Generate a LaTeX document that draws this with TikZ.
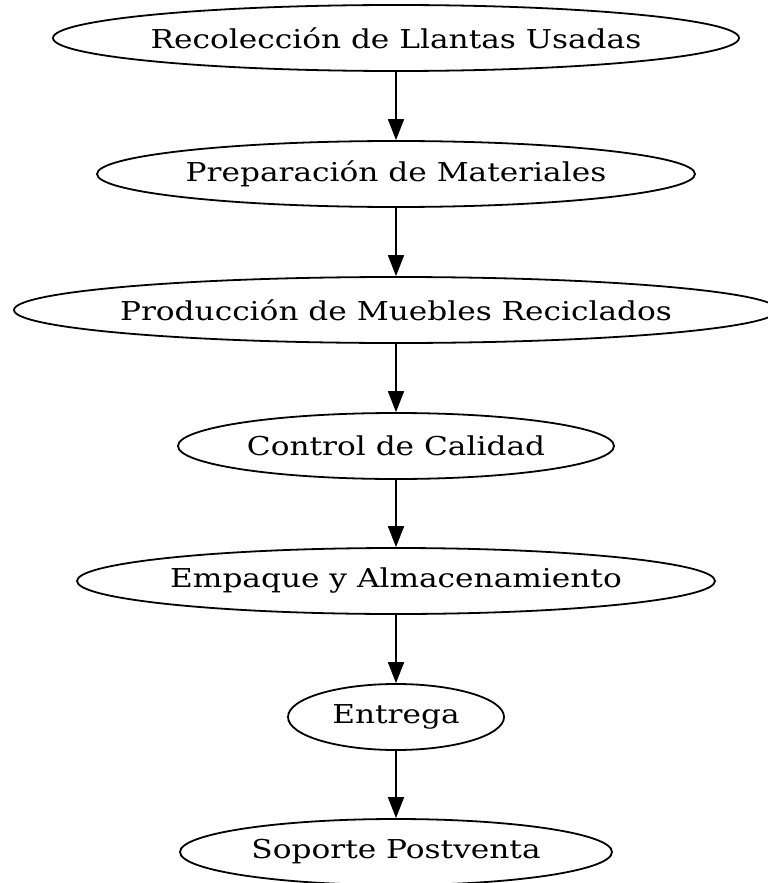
\documentclass[tikz,border=0pt]{standalone}
\usepackage{fontspec}
\setmainfont[FakeStretch=1.2]{DejaVu Serif}
\usetikzlibrary{shapes.geometric, arrows.meta}

\begin{document}
\begin{tikzpicture}[x=0.5pt,y=-0.5pt,
etapa/.style={draw, ellipse, line width=0.9pt, inner xsep=-20pt, inner ysep=0pt, minimum height=33pt, font=\fontsize{13}{15}\selectfont},
flecha/.style={-{Triangle[length=10.5pt,width=8pt]}, line width=0.9pt}]
\useasboundingbox (0,0) rectangle (767,883);
% Etapas
\node[etapa, minimum width=343pt] (recoleccion) at (396,38) {Recolección de Llantas Usadas};
\node[etapa, minimum width=299pt] (preparacion) at (396,174) {Preparación de Materiales};
\node[etapa, minimum width=382pt] (produccion) at (396,310) {Producción de Muebles Reciclados};
\node[etapa, minimum width=218pt] (control) at (396,446) {Control de Calidad};
\node[etapa, minimum width=319pt] (empaque) at (396,581) {Empaque y Almacenamiento};
\node[etapa, minimum width=108pt] (entrega) at (396,717) {Entrega};
\node[etapa, minimum width=216pt] (soporte) at (396,852) {Soporte Postventa};
% Flechas
\foreach \a/\b in {recoleccion/preparacion, preparacion/produccion, produccion/control, control/empaque, empaque/entrega, entrega/soporte}{
\draw[flecha] (\a) -- (\b);
}
\end{tikzpicture}
\end{document}
